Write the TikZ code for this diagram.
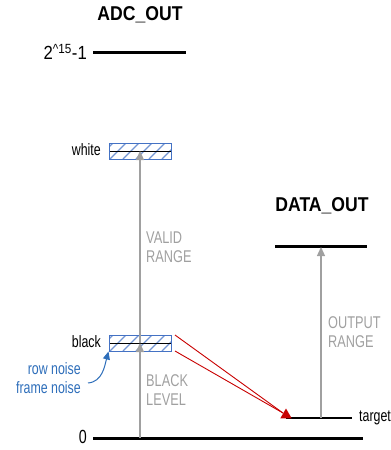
\documentclass[tikz,border=0pt]{standalone}
\usepackage{fontspec}
\setmainfont[FakeStretch=0.75]{Liberation Sans}
\newfontfamily\titlefont[FakeStretch=0.88]{Liberation Sans}
\usepackage{tikz}
\usetikzlibrary{arrows.meta,calc,positioning,shapes.geometric}

\definecolor{boxblue}{RGB}{68,114,196}
\definecolor{noteblue}{RGB}{46,110,186}
\definecolor{rangegray}{RGB}{160,160,160}
\definecolor{darkred}{RGB}{200,0,0}

\begin{document}
\begin{tikzpicture}[
  x=1pt, y=-1pt,
  every node/.style={font=\fontsize{16.5}{19}\selectfont, inner sep=1pt},
  title/.style={font=\titlefont\fontsize{20}{22}\selectfont\bfseries},
  level/.style={line width=3pt},
  lvlbox/.style={draw=boxblue, line width=1pt, minimum width=62pt, minimum height=16pt,
                 inner sep=0pt,
                 path picture={
                   \foreach \k in {0,...,5}
                     \draw[boxblue!75, line width=1.1pt]
                       ([xshift=\k*13pt-12pt]path picture bounding box.south west) -- ++(16pt,16pt);
                   \draw[black, line width=0.9pt] (path picture bounding box.west) -- (path picture bounding box.east);
                 }},
  rng/.style={-{Triangle[length=9pt,width=8pt]}, draw=rangegray, line width=1.3pt},
  rnglbl/.style={text=rangegray, align=left, anchor=west, font=\fontsize{17}{18.5}\selectfont},
  noise/.style={text=noteblue, align=right, anchor=east},
  feed/.style={draw=darkred, line width=0.9pt},
]
%% ── Background / frame ──────────────────────────────────────────────────
\useasboundingbox (0,0) rectangle (391,450);

%% ── ADC output scale ────────────────────────────────────────────────────
\node[title] (adc) at (140,15) {ADC\_OUT};
\coordinate (maxl) at (93,52);
\coordinate (maxr) at (186,52);
\draw[level] (maxl) -- (maxr);
\node[anchor=east, font=\titlefont\fontsize{19}{21}\selectfont] (maxlbl) at (88,52)
  {2\textsuperscript{\textasciicircum15}-1};

\coordinate (zerol) at (93,438);
\coordinate (zeror) at (363,438);
\coordinate (zeroadc) at (140,438);
\draw[level] (zerol) -- (zeror);
\node[anchor=east, font=\fontsize{19}{21}\selectfont] (zerolbl) at (88,437) {0};

\node[lvlbox] (white) at (140,151) {};
\node[lvlbox] (black) at (140,343) {};
\node[anchor=east] (whitelbl) at (102,150) {white};
\node[anchor=east] (blacklbl) at (102,342) {black};

\draw[rng] (zeroadc) -- (black.center);
\draw[rng] (black.center) -- (white.center);
\node[rnglbl] (valid) at (145,247) {VALID\\RANGE};
\node[rnglbl] (blevel) at (145,390) {BLACK\\LEVEL};

%% ── Noise annotation ────────────────────────────────────────────────────
\node[noise] (noiselbl) at (82,378) {row noise\\frame noise};
\draw[-{Triangle[length=8pt,width=7pt]}, draw=noteblue, line width=1pt]
  (noiselbl.east) ++(6,5) to[out=5, in=-105] (black.south west);

%% ── Data output scale ───────────────────────────────────────────────────
\node[title] (data) at (322,206) {DATA\_OUT};
\coordinate (datal) at (275,246);
\coordinate (datar) at (367,246);
\coordinate (dataout) at (321,247);
\draw[level] (datal) -- (datar);

\coordinate (tgtl) at (286,418);
\coordinate (tgtr) at (352,418);
\coordinate (tgtout) at (321,418);
\draw[line width=1.2pt] (tgtl) -- (tgtr);
\node[anchor=west] (tgtlbl) at (358,418) {target};
\draw[rng] (tgtout) -- (dataout);
\node[rnglbl] (orange) at (327,332) {OUTPUT\\RANGE};

%% ── Black level mapped to target ────────────────────────────────────────
\coordinate (bl1) at (175,335);
\coordinate (bl2) at (175,351);
\coordinate (hit) at (283,413);
\draw[feed] (bl1) -- (hit);
\draw[feed] (bl2) -- (hit);
\node[regular polygon, regular polygon sides=3, fill=darkred, minimum size=13pt,
      inner sep=0pt] (tri) at (286,415) {};
\end{tikzpicture}
\end{document}
